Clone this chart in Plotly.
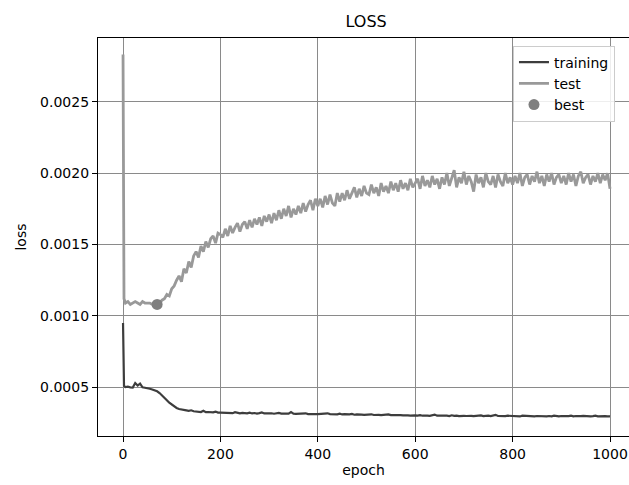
import plotly.graph_objects as go

# epochs sampled (dense at the very start)
epochs = [0, 2] + list(range(5, 1001, 5))

# test loss, units of 1e-5
test_e5 = [283, 112,
    109, 110, 108, 109, 110, 109, 108, 110, 109, 109,
    109, 108, 109, 108, 109, 111, 112, 115, 114, 119,
    121, 125, 128, 124, 133, 130, 138, 134, 142, 145,
    141, 149, 145, 152, 148, 154, 156, 151, 158, 157,
    155, 161, 156, 163, 158, 162, 165, 159, 164, 166,
    161, 167, 162, 168, 164, 169, 163, 170, 166, 171,
    165, 172, 167, 174, 168, 175, 170, 177, 169, 175,
    171, 177, 172, 179, 173, 178, 181, 174, 182, 177,
    182, 176, 184, 178, 185, 179, 177, 186, 180, 186,
    181, 188, 182, 186, 190, 183, 189, 184, 191, 186,
    185, 192, 186, 190, 184, 193, 187, 191, 186, 194,
    188, 193, 187, 195, 189, 193, 188, 196, 190, 193,
    196, 189, 198, 191, 195, 190, 198, 192, 196, 189,
    197, 192, 200, 191, 196, 202, 190, 197, 193, 201,
    192, 198, 194, 187, 199, 193, 197, 190, 200, 194,
    192, 198, 190, 199, 194, 191, 200, 193, 197, 192,
    198, 193, 200, 191, 197, 199, 192, 198, 194, 201,
    193, 198, 191, 199, 194, 200, 192, 197, 199, 193,
    198, 192, 200, 194, 199, 191, 198, 201, 193, 197,
    199, 192, 198, 194, 200, 193, 199, 195, 200, 189]

# training loss, units of 1e-6
train_e6 = [950, 510,
    502, 505, 500, 498, 530, 512, 526, 500, 497, 495,
    490, 485, 480, 472, 460, 445, 428, 410, 392, 378,
    365, 355, 348, 343, 340, 338, 335, 339, 332, 330,
    331, 327, 336, 326, 327, 324, 325, 330, 323, 322,
    322, 320, 324, 321, 319, 326, 320, 318, 321, 319,
    318, 322, 317, 320, 316, 319, 324, 317, 318, 316,
    318, 315, 317, 321, 316, 314, 317, 315, 326, 316,
    314, 316, 313, 315, 318, 312, 314, 316, 313, 312,
    313, 311, 314, 318, 312, 310, 313, 311, 315, 310,
    312, 309, 311, 314, 308, 310, 312, 309, 307, 310,
    308, 311, 306, 309, 307, 305, 308, 306, 310, 305,
    306, 304, 308, 305, 303, 306, 304, 302, 305, 303,
    302, 305, 301, 304, 302, 300, 303, 309, 301, 302,
    300, 303, 301, 299, 304, 300, 302, 298, 301, 300,
    299, 302, 300, 298, 301, 299, 303, 298, 300, 301,
    298, 300, 307, 299, 297, 300, 298, 301, 299, 297,
    300, 298, 296, 301, 299, 297, 300, 298, 296, 299,
    297, 300, 298, 296, 299, 297, 301, 298, 296, 299,
    297, 300, 298, 302, 297, 299, 296, 298, 300, 297,
    299, 296, 298, 301, 297, 299, 296, 298, 297, 296]

test_loss = [v * 1e-5 for v in test_e5]
train_loss = [v * 1e-6 for v in train_e6]

best_epoch = [70]
best_loss = [0.00108]

x_ticks = [0, 200, 400, 600, 800, 1000]
y_ticks = [0.0005, 0.0010, 0.0015, 0.0020, 0.0025]

FONT = "DejaVu Sans"

fig = go.Figure()
fig.add_trace(go.Scatter(x=epochs, y=train_loss, mode="lines", name="training",
                         line=dict(color="#3d3d3d", width=2.2)))
fig.add_trace(go.Scatter(x=epochs, y=test_loss, mode="lines", name="test",
                         line=dict(color="#999999", width=2.8)))
fig.add_trace(go.Scatter(x=best_epoch, y=best_loss, mode="markers", name="best",
                         marker=dict(color="#7f7f7f", size=11)))

fig.update_layout(
    width=629, height=485,
    margin=dict(l=98, r=0, t=38, b=49, autoexpand=False),
    paper_bgcolor="white", plot_bgcolor="white",
    font=dict(family=FONT, size=14, color="black"),
    title=dict(text="LOSS", x=0.582, xref="container", xanchor="center",
               y=0.955, yref="container", yanchor="middle",
               font=dict(family=FONT, size=16, color="black")),
    showlegend=True,
    legend=dict(x=0.7815, y=0.981, xanchor="left", yanchor="top",
                bgcolor="rgba(255,255,255,0.85)", bordercolor="#cccccc", borderwidth=1,
                font=dict(family=FONT, size=14, color="black"),
                tracegroupgap=0, itemwidth=30),
)

fig.update_xaxes(range=[-51.4, 1039], tickvals=x_ticks,
                 ticktext=[str(t) for t in x_ticks], automargin=False,
                 showgrid=True, gridcolor="#8a8a8a", gridwidth=1,
                 zeroline=False, showline=True, linecolor="black", linewidth=1.3,
                 mirror=True, ticks="outside", ticklen=5, tickcolor="black",
                 title=dict(text="epoch", standoff=4, font=dict(size=14)))
fig.update_yaxes(range=[0.000159, 0.002946], tickvals=y_ticks,
                 ticktext=["%.4f" % t for t in y_ticks], automargin=False,
                 showgrid=True, gridcolor="#8a8a8a", gridwidth=1,
                 zeroline=False, showline=True, linecolor="black", linewidth=1.3,
                 mirror=False, ticks="outside", ticklen=5, tickcolor="black",
                 title=dict(text="loss", standoff=10, font=dict(size=14)))

# remove the page's default body margin so the figure fills the window exactly
fig.write_html("out.html", config={"displayModeBar": False},
               post_script="document.body.style.margin='0';document.body.style.overflow='hidden';")
